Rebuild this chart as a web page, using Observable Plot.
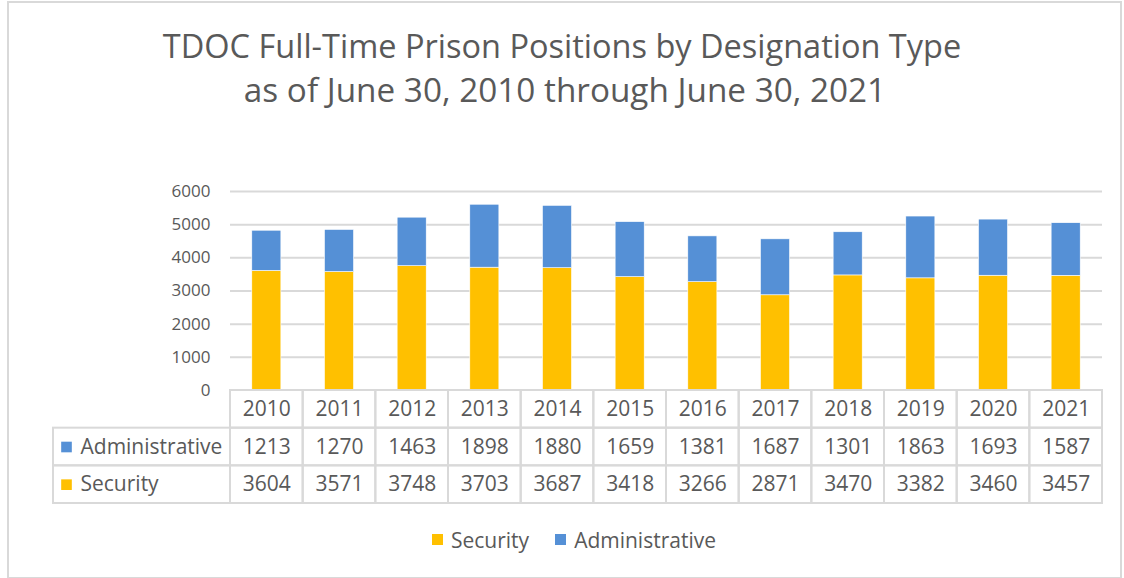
<!DOCTYPE html>
<html>
<head>
<meta charset="utf-8">
<script src="https://cdn.jsdelivr.net/npm/d3@7"></script>
<script src="https://cdn.jsdelivr.net/npm/@observablehq/plot@0.6"></script>
<style>
  html, body { margin: 0; padding: 0; background: #fff; }
  #wrap { position: relative; width: 1124px; height: 578px; overflow: hidden; font-family: "Open Sans", sans-serif; color: #595959; }
  #border { position: absolute; left: 7px; top: 1px; width: 1111px; height: 574px; border: 2px solid #d9d9d9; box-sizing: content-box; }
  .title { position: absolute; left: 0; width: 1124px; text-align: center; font-size: 32.5px; color: #595959; white-space: nowrap; }
  .abs { position: absolute; }
  .abs svg { display: block; overflow: visible; max-width: none !important; }
  #legend { position: absolute; top: 523px; left: 12px; width: 1124px; text-align: center; font-size: 21px; }
  #legend span.item { display: inline-flex; align-items: center; margin: 0 13px; }
  #legend span.sw { display: inline-block; width: 11px; height: 11px; margin-right: 8px; }
</style>
</head>
<body>
<div id="wrap">
  <div id="border"></div>
  <div class="title" style="top:23px">TDOC Full-Time Prison Positions by Designation Type</div>
  <div class="title" style="top:66px;font-size:33.3px;left:3px">as of June 30, 2010 through June 30, 2021</div>
  <div id="bars" class="abs" style="left:0;top:0;width:1124px"></div>
  <div id="tlabels" class="abs" style="left:0;top:390px;width:230px"></div>
  <div id="tvalues" class="abs" style="left:230px;top:390px;width:894px"></div>
  <div id="legend"></div>
</div>
<script>
const years = ["2010","2011","2012","2013","2014","2015","2016","2017","2018","2019","2020","2021"];
const administrative = [1213,1270,1463,1898,1880,1659,1381,1687,1301,1863,1693,1587];
const security = [3604,3571,3748,3703,3687,3418,3266,2871,3470,3382,3460,3457];
const seriesNames = ["Security","Administrative"];
const seriesColors = ["#FFC000","#5590D6"];
const yTicks = [0,1000,2000,3000,4000,5000,6000];
const tableRows = ["year","Administrative","Security"];

const textColor = "#595959";
const gridColor = "#d9d9d9";

const long = [];
years.forEach((y, i) => {
  long.push({year: y, type: "Security", value: security[i]});
  long.push({year: y, type: "Administrative", value: administrative[i]});
});

// Bars plot
const bars = Plot.plot({
  width: 1124,
  height: 400,
  marginTop: 191,
  marginBottom: 10,
  marginLeft: 230,
  marginRight: 22,
  style: {fontFamily: "Open Sans, sans-serif", fontSize: "17px", color: textColor, background: "transparent", overflow: "visible"},
  x: {domain: years, paddingInner: 0.6, paddingOuter: 0.3, round: false, axis: null},
  y: {domain: [0, 6000], ticks: yTicks, tickSize: 0, tickPadding: 20, label: null, tickFormat: d => String(d)},
  color: {domain: seriesNames, range: seriesColors},
  marks: [
    Plot.ruleY(yTicks.filter(d => d > 0), {stroke: gridColor, strokeWidth: 2}),
    Plot.barY(long, Plot.stackY({order: seriesNames}, {x: "year", y: "value", fill: "type", stroke: "white", strokeWidth: 0.6}))
  ]
});
document.getElementById("bars").appendChild(bars);

// Table values plot
const cells = [];
years.forEach((y, i) => {
  cells.push({year: y, row: "year", label: y});
  cells.push({year: y, row: "Administrative", label: String(administrative[i])});
  cells.push({year: y, row: "Security", label: String(security[i])});
});
const tv = Plot.plot({
  width: 894,
  height: 114,
  marginTop: 0,
  marginBottom: 1,
  marginLeft: 0,
  marginRight: 22,
  style: {fontFamily: "Open Sans, sans-serif", fontSize: "21px", color: textColor, background: "transparent", overflow: "visible"},
  x: {domain: years, padding: 0, round: false, axis: null},
  y: {domain: tableRows, padding: 0, round: false, axis: null},
  marks: [
    Plot.cell(cells, {x: "year", y: "row", fill: "none", stroke: gridColor, strokeWidth: 2, inset: 0}),
    Plot.text(cells, {x: "year", y: "row", text: "label", fill: textColor, dy: 0})
  ]
});
document.getElementById("tvalues").appendChild(tv);

// Table labels plot
const labelRows = [
  {col: "label", row: "Administrative", color: seriesColors[1]},
  {col: "label", row: "Security", color: seriesColors[0]}
];
const tl = Plot.plot({
  width: 230,
  height: 114,
  marginTop: 0,
  marginBottom: 1,
  marginLeft: 53,
  marginRight: 0,
  style: {fontFamily: "Open Sans, sans-serif", fontSize: "21px", color: textColor, background: "transparent", overflow: "visible"},
  x: {domain: ["label"], padding: 0, round: false, axis: null},
  y: {domain: tableRows, padding: 0, round: false, axis: null},
  marks: [
    Plot.cell(labelRows, {x: "col", y: "row", fill: "none", stroke: gridColor, strokeWidth: 2, inset: 0}),
    Plot.dot(labelRows, {y: "row", frameAnchor: "left", dx: 13, symbol: "square", r: 6, fill: "color", stroke: null}),
    Plot.text(labelRows, {y: "row", frameAnchor: "left", dx: 27, text: "row", textAnchor: "start", fill: textColor})
  ]
});
document.getElementById("tlabels").appendChild(tl);

// Legend
const leg = document.getElementById("legend");
seriesNames.forEach((s, i) => {
  const it = document.createElement("span");
  it.className = "item";
  const sw = document.createElement("span");
  sw.className = "sw";
  sw.style.background = seriesColors[i];
  it.appendChild(sw);
  it.appendChild(document.createTextNode(s));
  leg.appendChild(it);
});
</script>
</body>
</html>
